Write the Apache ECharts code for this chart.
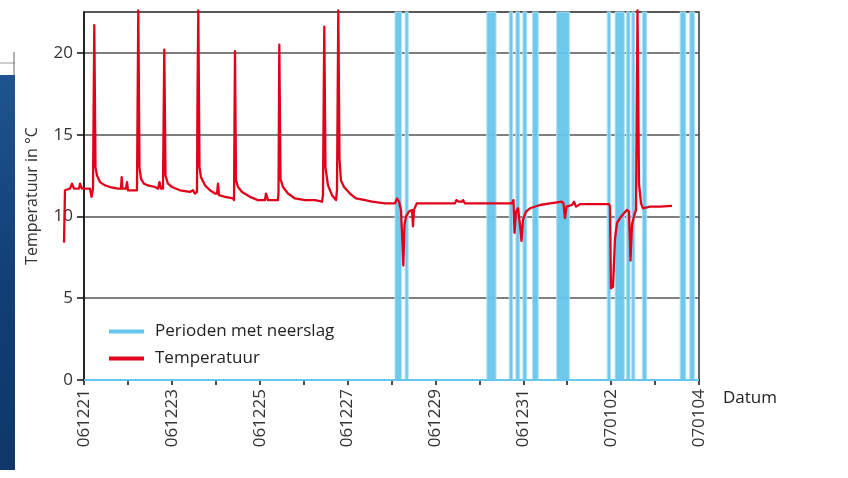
<!DOCTYPE html>
<html>
<head>
<meta charset="utf-8">
<script src="https://cdn.jsdelivr.net/npm/echarts@6/dist/echarts.min.js"></script>
<style>html,body{margin:0;padding:0;background:#fff}#c{width:848px;height:478px}</style>
</head>
<body>
<div id="c"></div>
<script>
// x = days since 061221
const dateLabels = ['061221','061223','061225','061227','061229','061231','070102','070104'];
const yTicks = [0, 5, 10, 15, 20];
// rain periods (start / end, in days)
const rainStart = [7.08, 7.31, 9.17, 9.68, 9.83, 9.99, 10.21, 10.76, 11.91, 12.09, 12.35, 12.47, 12.71, 13.57, 13.79];
const rainEnd   = [7.23, 7.38, 9.38, 9.76, 9.92, 10.08, 10.34, 11.05, 11.99, 12.30, 12.43, 12.54, 12.81, 13.70, 13.90];
// temperature (°C)
const tDays = [-0.455,-0.433,-0.319,-0.273,-0.228,-0.114,-0.091,-0.046,0.137,0.171,0.205,0.234,0.262,0.296,0.364,0.478,0.592,0.774,0.842,0.858,0.876,0.956,0.979,1.002,1.206,1.236,1.263,1.298,1.366,1.457,1.616,1.685,1.719,1.753,1.798,1.828,1.855,1.912,2.003,2.185,2.413,2.481,2.527,2.572,2.584,2.602,2.629,2.663,2.754,2.868,2.982,3.028,3.050,3.073,3.210,3.392,3.415,3.437,3.460,3.506,3.597,3.779,3.961,4.120,4.143,4.189,4.325,4.416,4.428,4.446,4.473,4.530,4.644,4.803,5.031,5.258,5.418,5.440,5.470,5.497,5.554,5.645,5.736,5.759,5.789,5.816,5.850,5.919,6.055,6.192,6.397,6.556,6.852,7.080,7.125,7.171,7.216,7.239,7.269,7.296,7.330,7.398,7.467,7.489,7.512,7.574,8.445,8.479,8.536,8.605,8.627,8.673,9.743,9.777,9.800,9.834,9.880,9.925,9.959,9.993,10.062,10.153,10.380,10.608,10.881,10.915,10.949,10.984,11.109,11.154,11.200,11.291,11.746,11.951,11.974,11.996,12.042,12.087,12.133,12.201,12.292,12.361,12.406,12.440,12.475,12.520,12.566,12.600,12.634,12.680,12.725,12.884,13.112,13.385];
const tVals = [8.4,11.6,11.7,12.0,11.7,11.7,12.0,11.7,11.7,11.2,11.7,21.7,13.0,12.5,12.1,11.9,11.8,11.7,11.7,12.4,11.7,11.7,12.1,11.6,11.6,22.6,13.0,12.3,12.0,11.9,11.8,11.7,12.1,11.7,11.7,20.2,12.5,12.0,11.8,11.6,11.5,11.6,11.4,11.5,17.3,22.6,13.0,12.4,11.9,11.6,11.4,11.4,12.0,11.3,11.2,11.1,11.0,20.1,12.2,11.8,11.5,11.2,11.0,11.0,11.4,11.0,11.0,11.0,11.5,20.5,12.3,11.8,11.4,11.1,11.0,11.0,10.9,11.3,21.6,13.0,11.9,11.3,11.0,11.6,22.6,13.5,12.2,11.8,11.4,11.1,11.0,10.9,10.8,10.8,11.1,10.9,10.4,9.0,7.0,9.5,10.0,10.3,10.4,9.4,10.4,10.8,10.8,11.0,10.9,10.9,11.0,10.8,10.8,11.0,9.0,10.3,10.5,9.5,8.5,9.8,10.3,10.5,10.7,10.8,10.9,10.8,9.9,10.6,10.7,10.9,10.6,10.75,10.75,10.75,10.6,5.6,5.7,8.6,9.6,9.9,10.2,10.4,10.3,7.3,9.5,10.0,10.4,22.6,12.0,10.8,10.5,10.6,10.6,10.65];

const FONT = '"Open Sans", "Noto Sans", sans-serif';
const BLUE = '#66c6ec';
const RED = '#e2001a';
const tempData = tDays.map((d, i) => [d, tVals[i]]);

const chart = echarts.init(document.getElementById('c'));
chart.setOption({
  animation: false,
  backgroundColor: '#fff',
  graphic: [
    { type: 'rect', left: 0, top: 75, shape: { width: 15, height: 395 },
      style: { fill: new echarts.graphic.LinearGradient(0, 0, 0, 1, [
        { offset: 0, color: '#1f5490' }, { offset: 0.5, color: '#123f78' }, { offset: 1, color: '#0f3768' }]) } },
    { type: 'line', shape: { x1: 0, y1: 63, x2: 15, y2: 63 }, style: { stroke: '#999', lineWidth: 1 } },
    { type: 'line', shape: { x1: 14, y1: 52, x2: 14, y2: 75 }, style: { stroke: '#666', lineWidth: 1 } }
  ],
  grid: { left: 84, right: 149, top: 12, bottom: 98, show: true, borderColor: '#333', borderWidth: 1.5, backgroundColor: 'transparent' },
  legend: {
    orient: 'vertical', left: 104, top: 318, itemWidth: 35, itemHeight: 4, itemGap: 10, icon: 'rect',
    textStyle: { fontFamily: FONT, fontSize: 17, color: '#222', padding: [0, 0, 0, 6] },
    data: ['Perioden met neerslag', 'Temperatuur']
  },
  xAxis: {
    type: 'value', min: 0, max: 14, interval: 1,
    name: 'Datum', nameLocation: 'end', nameGap: 24,
    nameTextStyle: { fontFamily: FONT, fontSize: 17, color: '#222', verticalAlign: 'top', padding: [10, 0, 0, 0] },
    axisLine: { lineStyle: { color: '#111', width: 1.5 } },
    axisTick: { show: true, length: 5, lineStyle: { color: '#111', width: 1.5 } },
    splitLine: { show: false },
    axisLabel: {
      rotate: 90, margin: 9, fontFamily: FONT, fontSize: 17, color: '#333',
      formatter: v => (v % 2 === 0 ? dateLabels[v / 2] : '')
    }
  },
  yAxis: {
    type: 'value', min: 0, max: 22.5, interval: 5,
    name: 'Temperatuur in °C', nameLocation: 'middle', nameGap: 44,
    nameTextStyle: { fontFamily: FONT, fontSize: 16, color: '#333' },
    axisLine: { show: true, lineStyle: { color: '#111', width: 1.5 } },
    axisTick: { show: true, length: 7, lineStyle: { color: '#111', width: 1.5 } },
    axisLabel: { showMaxLabel: false, margin: 11, fontFamily: FONT, fontSize: 17, color: '#333',
      formatter: v => (yTicks.indexOf(v) >= 0 ? String(v) : '') },
    splitLine: { show: true, lineStyle: { color: '#555', width: 1.5 } }
  },
  series: [
    {
      name: 'Perioden met neerslag', type: 'line', symbol: 'none', z: 2,
      color: BLUE, lineStyle: { color: BLUE, width: 2 },
      data: [[0, 0], [14, 0]],
      markArea: {
        silent: true,
        itemStyle: { color: BLUE, opacity: 0.95, borderColor: '#b5e2f5', borderWidth: 1 },
        data: rainStart.map((s, i) => [{ xAxis: s }, { xAxis: rainEnd[i] }])
      }
    },
    {
      name: 'Temperatuur', type: 'custom', z: 3, clip: false,
      color: RED,
      encode: { x: 0, y: 1 },
      data: tempData,
      renderItem: (params, api) => {
        if (params.dataIndex !== 0) return null;
        return {
          type: 'polyline',
          shape: { points: tempData.map(p => api.coord(p)) },
          style: { stroke: RED, lineWidth: 2.3, fill: null, lineJoin: 'round' }
        };
      }
    }
  ]
});
</script>
</body>
</html>
